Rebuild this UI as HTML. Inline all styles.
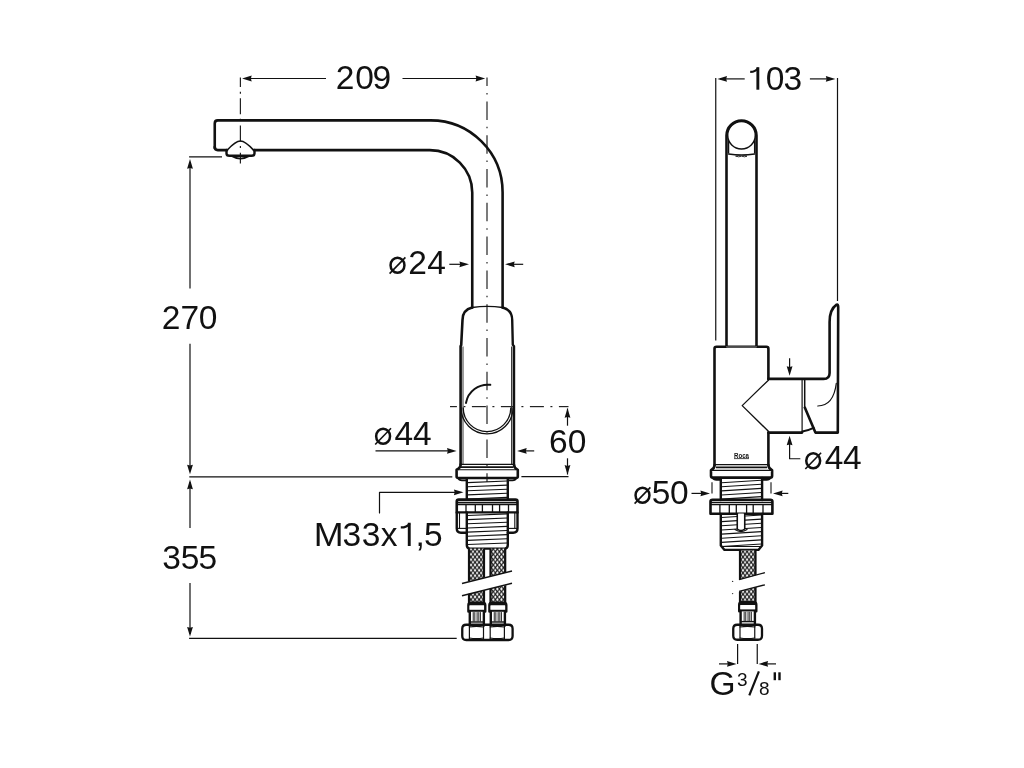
<!DOCTYPE html>
<html><head><meta charset="utf-8"><style>
html,body{margin:0;padding:0;background:#fff;width:1024px;height:768px;overflow:hidden}
svg{position:absolute;left:0;top:0;display:block;will-change:transform}
text{font-family:"Liberation Sans",sans-serif;fill:#111}
</style></head><body>
<svg width="1024" height="768" viewBox="0 0 1024 768">
<defs>
<pattern id="braid" x="0" y="0" width="4.06" height="5.33" patternUnits="userSpaceOnUse">
<rect width="4.06" height="5.33" fill="#1a1a1a"/>
<polygon points="2.03,0.81 3.28,2.67 2.03,4.52 0.78,2.67" fill="#fff"/>
<polygon points="0.00,-1.85 1.25,0.00 0.00,1.85 -1.25,0.00" fill="#fff"/>
<polygon points="4.06,-1.85 5.31,0.00 4.06,1.85 2.81,0.00" fill="#fff"/>
<polygon points="0.00,3.48 1.25,5.33 0.00,7.18 -1.25,5.33" fill="#fff"/>
<polygon points="4.06,3.48 5.31,5.33 4.06,7.18 2.81,5.33" fill="#fff"/>
</pattern>
</defs>
<rect width="1024" height="768" fill="#fff"/>
<line x1="245" y1="78.5" x2="326" y2="78.5" stroke="#111" stroke-width="1.2" />
<line x1="402.5" y1="78.5" x2="482" y2="78.5" stroke="#111" stroke-width="1.2" />
<polygon points="242.10,78.50 251.70,75.60 250.90,78.50 251.70,81.40" fill="#111"/>
<polygon points="485.20,78.50 475.60,75.60 476.40,78.50 475.60,81.40" fill="#111"/>
<line x1="240.4" y1="77.6" x2="240.4" y2="87.05" stroke="#222" stroke-width="1.2" />
<line x1="240.4" y1="91.65" x2="240.4" y2="93.65" stroke="#222" stroke-width="1.2" />
<line x1="240.4" y1="98.25" x2="240.4" y2="114.25" stroke="#222" stroke-width="1.2" />
<line x1="240.4" y1="118.85" x2="240.4" y2="120.85" stroke="#222" stroke-width="1.2" />
<line x1="240.4" y1="125.45" x2="240.4" y2="141.45" stroke="#222" stroke-width="1.2" />
<line x1="240.4" y1="146.05" x2="240.4" y2="148.05" stroke="#222" stroke-width="1.2" />
<line x1="240.4" y1="152.65" x2="240.4" y2="163.5" stroke="#222" stroke-width="1.2" />
<line x1="487" y1="77.6" x2="487" y2="86.1" stroke="#222" stroke-width="1.2" />
<line x1="487" y1="93.0" x2="487" y2="94.5" stroke="#222" stroke-width="1.2" />
<line x1="487" y1="101.4" x2="487" y2="119.9" stroke="#222" stroke-width="1.2" />
<line x1="487" y1="126.8" x2="487" y2="128.3" stroke="#222" stroke-width="1.2" />
<line x1="487" y1="135.2" x2="487" y2="153.7" stroke="#222" stroke-width="1.2" />
<line x1="487" y1="160.6" x2="487" y2="162.1" stroke="#222" stroke-width="1.2" />
<line x1="487" y1="169.0" x2="487" y2="187.5" stroke="#222" stroke-width="1.2" />
<line x1="487" y1="194.4" x2="487" y2="195.9" stroke="#222" stroke-width="1.2" />
<line x1="487" y1="202.8" x2="487" y2="221.3" stroke="#222" stroke-width="1.2" />
<line x1="487" y1="228.2" x2="487" y2="229.7" stroke="#222" stroke-width="1.2" />
<line x1="487" y1="236.6" x2="487" y2="255.1" stroke="#222" stroke-width="1.2" />
<line x1="487" y1="262.0" x2="487" y2="263.5" stroke="#222" stroke-width="1.2" />
<line x1="487" y1="270.4" x2="487" y2="288.9" stroke="#222" stroke-width="1.2" />
<line x1="487" y1="295.8" x2="487" y2="297.3" stroke="#222" stroke-width="1.2" />
<line x1="487" y1="304.2" x2="487" y2="322.7" stroke="#222" stroke-width="1.2" />
<line x1="487" y1="329.6" x2="487" y2="331.1" stroke="#222" stroke-width="1.2" />
<line x1="487" y1="338.0" x2="487" y2="356.5" stroke="#222" stroke-width="1.2" />
<line x1="487" y1="363.4" x2="487" y2="364.9" stroke="#222" stroke-width="1.2" />
<line x1="487" y1="371.8" x2="487" y2="390.3" stroke="#222" stroke-width="1.2" />
<line x1="487" y1="397.2" x2="487" y2="398.7" stroke="#222" stroke-width="1.2" />
<line x1="487" y1="405.6" x2="487" y2="424.1" stroke="#222" stroke-width="1.2" />
<line x1="487" y1="431.0" x2="487" y2="432.5" stroke="#222" stroke-width="1.2" />
<line x1="487" y1="439.4" x2="487" y2="457.9" stroke="#222" stroke-width="1.2" />
<line x1="487" y1="464.8" x2="487" y2="466.3" stroke="#222" stroke-width="1.2" />
<line x1="487" y1="473.2" x2="487" y2="482" stroke="#222" stroke-width="1.2" />
<line x1="450" y1="406.6" x2="456.9" y2="406.6" stroke="#222" stroke-width="1.2" />
<line x1="463.4" y1="406.6" x2="465.4" y2="406.6" stroke="#222" stroke-width="1.2" />
<line x1="471.9" y1="406.6" x2="485.9" y2="406.6" stroke="#222" stroke-width="1.2" />
<line x1="492.4" y1="406.6" x2="494.4" y2="406.6" stroke="#222" stroke-width="1.2" />
<line x1="500.9" y1="406.6" x2="514.9" y2="406.6" stroke="#222" stroke-width="1.2" />
<line x1="521.4" y1="406.6" x2="523.4" y2="406.6" stroke="#222" stroke-width="1.2" />
<line x1="529.9" y1="406.6" x2="543.9" y2="406.6" stroke="#222" stroke-width="1.2" />
<line x1="550.4" y1="406.6" x2="552.4" y2="406.6" stroke="#222" stroke-width="1.2" />
<line x1="558.9" y1="406.6" x2="568.5" y2="406.6" stroke="#222" stroke-width="1.2" />
<path d="M214.75,148 L214.75,123.4 Q214.75,120.4 217.75,120.4 L430.5,120.4 A72,72 0 0 1 502.6,192.4 L502.6,307.5" stroke="#111" stroke-width="2.6" fill="none" stroke-linecap="round" stroke-linejoin="round" />
<path d="M214.75,147 Q214.75,150.1 217.75,150.1 L227,150.1 M254,150.1 L429.75,150.1 A42.5,42.5 0 0 1 472.25,192.6 L472.25,307.5" stroke="#111" stroke-width="2.6" fill="none" stroke-linecap="round" stroke-linejoin="round" />
<path d="M226.75,150.5 C231,146 235.5,141 240.4,141 C245.3,141 249.8,146 253.9,150.5" stroke="#111" stroke-width="1.6" fill="none" stroke-linecap="round" stroke-linejoin="round" />
<path d="M226.5,150 L226.5,153.5 Q226.5,155.8 229.5,155.8 L251.5,155.8 Q254.5,155.8 254.5,153.5 L254.5,150" stroke="#111" stroke-width="2.4" fill="none" stroke-linecap="round" stroke-linejoin="round" />
<path d="M231.5,156 Q236,158.6 240.4,158.6 Q244.8,158.6 249.3,156" stroke="#111" stroke-width="1.8" fill="none" stroke-linecap="round" stroke-linejoin="round" />
<line x1="189.1" y1="156.8" x2="222" y2="156.8" stroke="#111" stroke-width="1.2" />
<path d="M472.25,307.5 Q487,305.2 502.6,307.5" stroke="#111" stroke-width="1.4" fill="none" stroke-linecap="round" stroke-linejoin="round" />
<path d="M472.25,307.5 C466,309 462.5,313 462.5,320 L461.2,345.2 L460.6,346.2 L460.6,464.5" stroke="#111" stroke-width="2.6" fill="none" stroke-linecap="round" stroke-linejoin="round" />
<path d="M502.6,307.5 C508.5,309 512.2,313 512.2,320 L512.8,344.8 L514,346.2 L514,464.5" stroke="#111" stroke-width="2.4" fill="none" stroke-linecap="round" stroke-linejoin="round" />
<line x1="463" y1="346.5" x2="463" y2="464.5" stroke="#666" stroke-width="1.3" />
<line x1="511.7" y1="346.5" x2="511.7" y2="464.5" stroke="#333" stroke-width="1.3" />
<path d="M461,407.8 A26,26 0 0 0 513,407.8" stroke="#111" stroke-width="1.3" fill="none" stroke-linecap="round" stroke-linejoin="round" />
<path d="M463.2,407.8 A23.8,23.8 0 0 0 510.8,407.8" stroke="#111" stroke-width="1.3" fill="none" stroke-linecap="round" stroke-linejoin="round" />
<path d="M466,402.9 A22,22 0 0 1 490.3,384.8" stroke="#111" stroke-width="2.0" fill="none" stroke-linecap="round" stroke-linejoin="round" />
<line x1="375.5" y1="450.9" x2="450" y2="450.9" stroke="#111" stroke-width="1.2" />
<polygon points="456.60,450.90 447.00,448.00 447.80,450.90 447.00,453.80" fill="#111"/>
<line x1="524" y1="450.9" x2="534.2" y2="450.9" stroke="#111" stroke-width="1.2" />
<polygon points="517.10,450.90 526.70,448.00 525.90,450.90 526.70,453.80" fill="#111"/>
<line x1="567.5" y1="408.5" x2="567.5" y2="425.7" stroke="#111" stroke-width="1.2" />
<line x1="567.5" y1="458.3" x2="567.5" y2="474.5" stroke="#111" stroke-width="1.2" />
<polygon points="567.50,408.20 564.60,417.80 567.50,417.00 570.40,417.80" fill="#111"/>
<polygon points="567.50,474.70 564.60,465.10 567.50,465.90 570.40,465.10" fill="#111"/>
<line x1="189.3" y1="476.8" x2="452.3" y2="476.8" stroke="#111" stroke-width="1.2" />
<line x1="521.4" y1="476.7" x2="568.5" y2="476.7" stroke="#111" stroke-width="1.2" />
<line x1="460.6" y1="464.3" x2="513.8" y2="464.3" stroke="#111" stroke-width="1.3" />
<line x1="461" y1="467.1" x2="513.5" y2="467.1" stroke="#111" stroke-width="1.6" />
<path d="M460.6,464.6 Q460.6,468 456.6,469.8 L456.6,476.5 Q456.6,478 458.5,478 L515.8,478 Q517.8,478 517.8,476.5 L517.8,469.8 Q514,468 514,464.6" stroke="#111" stroke-width="2.6" fill="none" stroke-linecap="round" stroke-linejoin="round" />
<line x1="456.6" y1="469.8" x2="517.8" y2="469.8" stroke="#111" stroke-width="1.1" />
<path d="M458,478 Q459,480.3 462,480.3 L466,480.3 M516.5,478 Q515.5,480.3 512.5,480.3 L508,480.3" stroke="#111" stroke-width="1.8" fill="none" stroke-linecap="round" stroke-linejoin="round" />
<path d="M466.8,478.5 L466.8,499.8 M507.8,478.5 L507.8,499.8" stroke="#111" stroke-width="2.4" fill="none" stroke-linecap="round" stroke-linejoin="round" />
<line x1="467.5" y1="482.6" x2="507" y2="481.0" stroke="#111" stroke-width="1.1" />
<line x1="467.5" y1="486.7" x2="507" y2="485.1" stroke="#111" stroke-width="1.1" />
<line x1="467.5" y1="490.8" x2="507" y2="489.2" stroke="#111" stroke-width="1.1" />
<line x1="467.5" y1="494.9" x2="507" y2="493.3" stroke="#111" stroke-width="1.1" />
<line x1="467.5" y1="499.0" x2="507" y2="497.4" stroke="#111" stroke-width="1.1" />
<path d="M379.5,513 L379.5,492.3 L458,492.3" stroke="#111" stroke-width="1.2" fill="none" stroke-linecap="round" stroke-linejoin="round" />
<polygon points="463.50,492.30 453.90,489.40 454.70,492.30 453.90,495.20" fill="#111"/>
<path d="M456.75,512.4 L456.75,501.5 Q456.75,499.6 458.75,499.6 L515.5,499.6 Q517.5,499.6 517.5,501.5 L517.5,512.4" stroke="#111" stroke-width="2.6" fill="none" stroke-linecap="round" stroke-linejoin="round" />
<line x1="456.75" y1="502.4" x2="517.5" y2="502.4" stroke="#111" stroke-width="1.1" />
<line x1="456.75" y1="504.4" x2="517.5" y2="504.4" stroke="#111" stroke-width="1.6" />
<line x1="456.75" y1="512.3" x2="517.5" y2="512.3" stroke="#111" stroke-width="2.2" />
<line x1="466" y1="504.4" x2="466" y2="512.3" stroke="#111" stroke-width="1.3" />
<line x1="475.3" y1="504.4" x2="475.3" y2="512.3" stroke="#111" stroke-width="1.3" />
<line x1="482.4" y1="504.4" x2="482.4" y2="512.3" stroke="#111" stroke-width="1.3" />
<line x1="492.5" y1="504.4" x2="492.5" y2="512.3" stroke="#111" stroke-width="1.3" />
<line x1="499.6" y1="504.4" x2="499.6" y2="512.3" stroke="#111" stroke-width="1.3" />
<line x1="508.5" y1="504.4" x2="508.5" y2="512.3" stroke="#111" stroke-width="1.3" />
<path d="M456.75,512.4 L456.75,528.6 Q456.75,532.7 461,532.7 L466.8,532.7" stroke="#111" stroke-width="2.4" fill="none" stroke-linecap="round" stroke-linejoin="round" />
<path d="M517.5,512.4 L517.5,528.6 Q517.5,532.7 513.2,532.7 L507.8,532.7" stroke="#111" stroke-width="2.4" fill="none" stroke-linecap="round" stroke-linejoin="round" />
<line x1="459.5" y1="513" x2="459.5" y2="528.4" stroke="#111" stroke-width="1.1" />
<line x1="514.8" y1="513" x2="514.8" y2="528.4" stroke="#111" stroke-width="1.1" />
<line x1="456.75" y1="528.4" x2="466.8" y2="528.4" stroke="#111" stroke-width="1.1" />
<line x1="507.8" y1="528.4" x2="517.5" y2="528.4" stroke="#111" stroke-width="1.1" />
<path d="M466.8,512.4 L466.8,545 Q466.8,548.6 470,548.6 L504.6,548.6 Q507.8,548.6 507.8,545 L507.8,512.4" stroke="#111" stroke-width="2.4" fill="none" stroke-linecap="round" stroke-linejoin="round" />
<line x1="467.5" y1="515.5" x2="507" y2="513.9" stroke="#111" stroke-width="1.1" />
<line x1="467.5" y1="519.65" x2="507" y2="518.05" stroke="#111" stroke-width="1.1" />
<line x1="467.5" y1="523.8" x2="507" y2="522.2" stroke="#111" stroke-width="1.1" />
<line x1="467.5" y1="527.95" x2="507" y2="526.35" stroke="#111" stroke-width="1.1" />
<line x1="467.5" y1="532.1" x2="507" y2="530.5" stroke="#111" stroke-width="1.1" />
<line x1="467.5" y1="536.25" x2="507" y2="534.65" stroke="#111" stroke-width="1.1" />
<line x1="467.5" y1="540.4" x2="507" y2="538.8" stroke="#111" stroke-width="1.1" />
<line x1="467.5" y1="544.55" x2="507" y2="542.95" stroke="#111" stroke-width="1.1" />
<rect x="469" y="548.6" width="15" height="55.39999999999998" fill="url(#braid)"/>
<line x1="469" y1="548.6" x2="469" y2="604" stroke="#111" stroke-width="2.2" />
<line x1="484" y1="548.6" x2="484" y2="604" stroke="#111" stroke-width="2.2" />
<rect x="490.5" y="548.6" width="14.699999999999989" height="55.39999999999998" fill="url(#braid)"/>
<line x1="490.5" y1="548.6" x2="490.5" y2="604" stroke="#111" stroke-width="2.2" />
<line x1="505.2" y1="548.6" x2="505.2" y2="604" stroke="#111" stroke-width="2.2" />
<polygon points="458,583.8 516,570.3 516,582.8 458,596.3" fill="#fff"/>
<line x1="462" y1="583.5" x2="512" y2="571" stroke="#111" stroke-width="1.3" />
<line x1="462" y1="595.75" x2="512" y2="583.25" stroke="#111" stroke-width="1.3" />
<path d="M468.4,611.6 L468.4,605.1 Q468.4,602.6 470.9,602.6 L482.75,602.6 Q485.25,602.6 485.25,605.1 L485.25,611.6" stroke="#111" stroke-width="2.4" fill="none" stroke-linecap="round" stroke-linejoin="round" />
<rect x="468.4" y="602.6" width="16.85" height="2.9" fill="#111"/>
<rect x="469.59999999999997" y="605.5" width="14.45" height="4.3" fill="#fff"/>
<line x1="468.4" y1="610.8000000000001" x2="485.25" y2="610.8000000000001" stroke="#111" stroke-width="2.0" />
<path d="M469.79999999999995,611.6 L469.79999999999995,625.6 M483.85,611.6 L483.85,625.6" stroke="#111" stroke-width="2.4" fill="none" stroke-linecap="round" stroke-linejoin="round" />
<line x1="473.22" y1="612.1" x2="473.22" y2="621.6" stroke="#111" stroke-width="0.9" />
<line x1="474.82" y1="612.1" x2="474.82" y2="621.6" stroke="#111" stroke-width="0.9" />
<line x1="477.12" y1="612.1" x2="477.12" y2="621.6" stroke="#111" stroke-width="0.9" />
<line x1="478.82" y1="612.1" x2="478.82" y2="621.6" stroke="#111" stroke-width="0.9" />
<line x1="480.43" y1="612.1" x2="480.43" y2="621.6" stroke="#111" stroke-width="0.9" />
<line x1="469.79999999999995" y1="622.0" x2="483.85" y2="622.0" stroke="#111" stroke-width="1.4" />
<path d="M489.4,611.6 L489.4,605.1 Q489.4,602.6 491.9,602.6 L503.8,602.6 Q506.3,602.6 506.3,605.1 L506.3,611.6" stroke="#111" stroke-width="2.4" fill="none" stroke-linecap="round" stroke-linejoin="round" />
<rect x="489.4" y="602.6" width="16.90" height="2.9" fill="#111"/>
<rect x="490.59999999999997" y="605.5" width="14.50" height="4.3" fill="#fff"/>
<line x1="489.4" y1="610.8000000000001" x2="506.3" y2="610.8000000000001" stroke="#111" stroke-width="2.0" />
<path d="M490.79999999999995,611.6 L490.79999999999995,625.6 M504.90000000000003,611.6 L504.90000000000003,625.6" stroke="#111" stroke-width="2.4" fill="none" stroke-linecap="round" stroke-linejoin="round" />
<line x1="494.25" y1="612.1" x2="494.25" y2="621.6" stroke="#111" stroke-width="0.9" />
<line x1="495.85" y1="612.1" x2="495.85" y2="621.6" stroke="#111" stroke-width="0.9" />
<line x1="498.15" y1="612.1" x2="498.15" y2="621.6" stroke="#111" stroke-width="0.9" />
<line x1="499.85" y1="612.1" x2="499.85" y2="621.6" stroke="#111" stroke-width="0.9" />
<line x1="501.45" y1="612.1" x2="501.45" y2="621.6" stroke="#111" stroke-width="0.9" />
<line x1="490.79999999999995" y1="622.0" x2="504.90000000000003" y2="622.0" stroke="#111" stroke-width="1.4" />
<path d="M466.25,624.75 L508.6,624.75 Q512.6,624.75 512.6,628.75 L512.6,636 Q512.6,640 508.6,640 L466.25,640 Q462.25,640 462.25,636 L462.25,628.75 Q462.25,624.75 466.25,624.75 Z" stroke="#111" stroke-width="2.3" fill="none" stroke-linecap="round" stroke-linejoin="round" />
<line x1="469.4" y1="626" x2="469.4" y2="639" stroke="#111" stroke-width="1.2" />
<line x1="483.5" y1="626" x2="483.5" y2="639" stroke="#111" stroke-width="1.2" />
<line x1="490.2" y1="626" x2="490.2" y2="639" stroke="#111" stroke-width="1.2" />
<line x1="504.4" y1="626" x2="504.4" y2="639" stroke="#111" stroke-width="1.2" />
<path d="M469.4,627 Q476.5,625.8 483.5,627 M469.4,638 Q476.5,639.2 483.5,638 M490.2,627 Q497.3,625.8 504.4,627 M490.2,638 Q497.3,639.2 504.4,638" stroke="#111" stroke-width="1.2" fill="none" stroke-linecap="round" stroke-linejoin="round" />
<line x1="189.1" y1="638.4" x2="456.7" y2="638.4" stroke="#111" stroke-width="1.2" />
<line x1="190" y1="162" x2="190" y2="288.5" stroke="#111" stroke-width="1.2" />
<line x1="190" y1="343.7" x2="190" y2="471" stroke="#111" stroke-width="1.2" />
<polygon points="190.00,159.10 187.10,168.70 190.00,167.90 192.90,168.70" fill="#111"/>
<polygon points="190.00,474.30 187.10,464.70 190.00,465.50 192.90,464.70" fill="#111"/>
<line x1="190" y1="482" x2="190" y2="528" stroke="#111" stroke-width="1.2" />
<line x1="190" y1="583" x2="190" y2="634" stroke="#111" stroke-width="1.2" />
<polygon points="190.00,479.60 187.10,489.20 190.00,488.40 192.90,489.20" fill="#111"/>
<polygon points="190.00,636.60 187.10,627.00 190.00,627.80 192.90,627.00" fill="#111"/>
<line x1="449.3" y1="264.3" x2="461" y2="264.3" stroke="#111" stroke-width="1.2" />
<polygon points="469.00,264.30 459.40,261.40 460.20,264.30 459.40,267.20" fill="#111"/>
<line x1="513" y1="264.3" x2="523.2" y2="264.3" stroke="#111" stroke-width="1.2" />
<polygon points="505.10,264.30 514.70,261.40 513.90,264.30 514.70,267.20" fill="#111"/>
<line x1="715.75" y1="78" x2="715.75" y2="340.5" stroke="#111" stroke-width="1.2" />
<line x1="837.5" y1="78" x2="837.5" y2="301" stroke="#111" stroke-width="1.2" />
<line x1="720" y1="78.9" x2="744.7" y2="78.9" stroke="#111" stroke-width="1.2" />
<line x1="809.9" y1="78.9" x2="832" y2="78.9" stroke="#111" stroke-width="1.2" />
<polygon points="717.40,78.90 727.00,76.00 726.20,78.90 727.00,81.80" fill="#111"/>
<polygon points="835.40,78.90 825.80,76.00 826.60,78.90 825.80,81.80" fill="#111"/>
<path d="M726.5,346.5 L726.5,135.5 A15,15 0 0 1 756.5,135.5 L756.5,346.5" stroke="#111" stroke-width="2.6" fill="none" stroke-linecap="round" stroke-linejoin="round" />
<circle cx="741.5" cy="135.3" r="13.8" fill="none" stroke="#111" stroke-width="1.5"/>
<line x1="728.6" y1="141" x2="728.6" y2="153.5" stroke="#111" stroke-width="1.3" />
<line x1="754.6" y1="141" x2="754.6" y2="153.5" stroke="#111" stroke-width="1.3" />
<path d="M728.6,154 Q741.5,156 754.6,154" stroke="#111" stroke-width="1.3" fill="none" stroke-linecap="round" stroke-linejoin="round" />
<path d="M736,156.2 Q739,154.8 741.2,156.2 Q739,157.6 736,156.2 M742,156.2 Q744.3,154.8 747,156.2 Q744.3,157.6 742,156.2" stroke="#111" stroke-width="0.8" fill="none" stroke-linecap="round" stroke-linejoin="round" />
<path d="M768.4,378.9 L768.4,348.8 Q768.4,346.8 766.4,346.8 L716.5,346.8 Q714.5,346.8 714.5,348.8 L714.5,465" stroke="#111" stroke-width="2.6" fill="none" stroke-linecap="round" stroke-linejoin="round" />
<line x1="726.5" y1="346.8" x2="756.5" y2="346.8" stroke="#fff" stroke-width="1.2" />
<line x1="726.5" y1="346.8" x2="756.5" y2="346.8" stroke="#111" stroke-width="1.0" />
<path d="M768.4,432.6 L768.4,465" stroke="#111" stroke-width="2.6" fill="none" stroke-linecap="round" stroke-linejoin="round" />
<path d="M768.4,378.9 L823.6,378.9 Q829.6,378.9 829.6,372.9 L829.6,322 C829.6,312 833,307 836.6,304.6 Q838.2,304 838.2,307 L837.8,432.6 L815.4,432.6 L804.8,407.6" stroke="#111" stroke-width="2.6" fill="none" stroke-linecap="round" stroke-linejoin="round" />
<line x1="804.7" y1="380" x2="804.7" y2="408" stroke="#111" stroke-width="1.5" />
<path d="M768.4,432.6 L802,432.6" stroke="#111" stroke-width="2.6" fill="none" stroke-linecap="round" stroke-linejoin="round" />
<line x1="802.1" y1="379.5" x2="802.1" y2="432" stroke="#111" stroke-width="1.2" />
<path d="M802.3,431.6 Q808,430.5 813.6,427.8" stroke="#111" stroke-width="2.0" fill="none" stroke-linecap="round" stroke-linejoin="round" />
<path d="M817.75,406 C828,406 834.5,398 836.3,383.3" stroke="#111" stroke-width="1.2" fill="none" stroke-linecap="round" stroke-linejoin="round" />
<path d="M768.4,380.2 L742.2,405.6 L768.4,431.3" stroke="#111" stroke-width="1.3" fill="none" stroke-linecap="round" stroke-linejoin="round" />
<line x1="789.6" y1="358.2" x2="789.6" y2="369" stroke="#111" stroke-width="1.2" />
<polygon points="789.60,375.80 786.70,366.20 789.60,367.00 792.50,366.20" fill="#111"/>
<path d="M789.6,442 L789.6,458.75 L799.9,458.75" stroke="#111" stroke-width="1.2" fill="none" stroke-linecap="round" stroke-linejoin="round" />
<polygon points="789.60,435.75 786.70,445.35 789.60,444.55 792.50,445.35" fill="#111"/>
<line x1="714.75" y1="464.6" x2="768.4" y2="464.6" stroke="#111" stroke-width="1.3" />
<line x1="716" y1="467.4" x2="767" y2="467.4" stroke="#111" stroke-width="1.6" />
<path d="M714.6,465 Q714.6,468.5 711,470.2 L711,476 Q711,477.6 713,477.6 L770.1,477.6 Q772.1,477.6 772.1,476 L772.1,470.2 Q768.4,468.5 768.4,465" stroke="#111" stroke-width="2.6" fill="none" stroke-linecap="round" stroke-linejoin="round" />
<line x1="711" y1="470.4" x2="772.1" y2="470.4" stroke="#111" stroke-width="1.1" />
<path d="M712.5,477.6 Q713.5,479.8 716.5,479.8 L720.8,479.8 M770.6,477.6 Q769.6,479.8 766.6,479.8 L762.1,479.8" stroke="#111" stroke-width="1.8" fill="none" stroke-linecap="round" stroke-linejoin="round" />
<path d="M720.8,478 L720.8,500 M762.1,478 L762.1,500" stroke="#111" stroke-width="2.4" fill="none" stroke-linecap="round" stroke-linejoin="round" />
<line x1="721.5" y1="482.7" x2="761.4" y2="480.2" stroke="#111" stroke-width="1.1" />
<line x1="721.5" y1="486.8" x2="761.4" y2="484.3" stroke="#111" stroke-width="1.1" />
<line x1="721.5" y1="490.9" x2="761.4" y2="488.4" stroke="#111" stroke-width="1.1" />
<line x1="721.5" y1="495.0" x2="761.4" y2="492.5" stroke="#111" stroke-width="1.1" />
<line x1="721.5" y1="499.1" x2="761.4" y2="496.6" stroke="#111" stroke-width="1.1" />
<line x1="712" y1="482.2" x2="712" y2="493.4" stroke="#111" stroke-width="1.1" />
<line x1="771" y1="482.2" x2="771" y2="493.4" stroke="#111" stroke-width="1.1" />
<line x1="691.5" y1="493.4" x2="703" y2="493.4" stroke="#111" stroke-width="1.2" />
<polygon points="710.00,493.40 700.40,490.50 701.20,493.40 700.40,496.30" fill="#111"/>
<line x1="778" y1="493.4" x2="788.3" y2="493.4" stroke="#111" stroke-width="1.2" />
<polygon points="773.00,493.40 782.60,490.50 781.80,493.40 782.60,496.30" fill="#111"/>
<path d="M710.5,513.8 L710.5,501.6 Q710.5,499.75 712.5,499.75 L770.4,499.75 Q772.4,499.75 772.4,501.6 L772.4,513.8 L710.5,513.8" stroke="#111" stroke-width="2.6" fill="none" stroke-linecap="round" stroke-linejoin="round" />
<line x1="710.5" y1="502.4" x2="772.4" y2="502.4" stroke="#111" stroke-width="1.1" />
<line x1="710.5" y1="504.5" x2="772.4" y2="504.5" stroke="#111" stroke-width="1.6" />
<line x1="719.9" y1="504.5" x2="719.9" y2="513.5" stroke="#111" stroke-width="1.3" />
<line x1="729.3" y1="504.5" x2="729.3" y2="513.5" stroke="#111" stroke-width="1.3" />
<line x1="736.3" y1="504.5" x2="736.3" y2="513.5" stroke="#111" stroke-width="1.3" />
<line x1="746.6" y1="504.5" x2="746.6" y2="513.5" stroke="#111" stroke-width="1.3" />
<line x1="753.2" y1="504.5" x2="753.2" y2="513.5" stroke="#111" stroke-width="1.3" />
<line x1="763" y1="504.5" x2="763" y2="513.5" stroke="#111" stroke-width="1.3" />
<path d="M720.8,514 L720.8,545.5 L724.5,549.9 L758.4,549.9 L762.1,545.5 L762.1,514" stroke="#111" stroke-width="2.4" fill="none" stroke-linecap="round" stroke-linejoin="round" />
<line x1="721" y1="546.5" x2="762" y2="546.5" stroke="#111" stroke-width="1.1" />
<line x1="721.5" y1="517.5" x2="761.4" y2="515.0" stroke="#111" stroke-width="1.1" />
<line x1="721.5" y1="521.65" x2="761.4" y2="519.15" stroke="#111" stroke-width="1.1" />
<line x1="721.5" y1="525.8" x2="761.4" y2="523.3" stroke="#111" stroke-width="1.1" />
<line x1="721.5" y1="529.95" x2="761.4" y2="527.45" stroke="#111" stroke-width="1.1" />
<line x1="721.5" y1="534.1" x2="761.4" y2="531.6" stroke="#111" stroke-width="1.1" />
<line x1="721.5" y1="538.25" x2="761.4" y2="535.75" stroke="#111" stroke-width="1.1" />
<line x1="721.5" y1="542.4" x2="761.4" y2="539.9" stroke="#111" stroke-width="1.1" />
<line x1="721.5" y1="546.55" x2="761.4" y2="544.05" stroke="#111" stroke-width="1.1" />
<rect x="737.25" y="513.5" width="7.5" height="17" rx="1.5" fill="#fff"/>
<path d="M737.25,514 L737.25,529 Q741,532 744.75,529 L744.75,514" stroke="#111" stroke-width="1.6" fill="none" stroke-linecap="round" stroke-linejoin="round" />
<path d="M735,529.5 Q741,533.5 747,529.5" stroke="#111" stroke-width="1.3" fill="none" stroke-linecap="round" stroke-linejoin="round" />
<rect x="740" y="550" width="15.5" height="53.5" fill="url(#braid)"/>
<line x1="740" y1="550" x2="740" y2="603.5" stroke="#111" stroke-width="2.2" />
<line x1="755.5" y1="550" x2="755.5" y2="603.5" stroke="#111" stroke-width="2.2" />
<polygon points="736,580.7 768,572 768,584 736,592.6" fill="#fff"/>
<line x1="739.1" y1="579.7" x2="764.9" y2="572.7" stroke="#111" stroke-width="1.3" />
<line x1="739.1" y1="591.4" x2="764.9" y2="584.8" stroke="#111" stroke-width="1.3" />
<circle cx="732.6" cy="581.4" r="0.7" fill="#333"/><circle cx="732.6" cy="593.6" r="0.7" fill="#333"/>
<path d="M739.2,611.2 L739.2,604.7 Q739.2,602.2 741.7,602.2 L753.8,602.2 Q756.3,602.2 756.3,604.7 L756.3,611.2" stroke="#111" stroke-width="2.4" fill="none" stroke-linecap="round" stroke-linejoin="round" />
<rect x="739.2" y="602.2" width="17.10" height="2.9" fill="#111"/>
<rect x="740.4000000000001" y="605.1" width="14.70" height="4.3" fill="#fff"/>
<line x1="739.2" y1="610.4000000000001" x2="756.3" y2="610.4000000000001" stroke="#111" stroke-width="2.0" />
<path d="M740.6,611.2 L740.6,625.2 M754.9,611.2 L754.9,625.2" stroke="#111" stroke-width="2.4" fill="none" stroke-linecap="round" stroke-linejoin="round" />
<line x1="744.15" y1="611.7" x2="744.15" y2="621.2" stroke="#111" stroke-width="0.9" />
<line x1="745.75" y1="611.7" x2="745.75" y2="621.2" stroke="#111" stroke-width="0.9" />
<line x1="748.05" y1="611.7" x2="748.05" y2="621.2" stroke="#111" stroke-width="0.9" />
<line x1="749.75" y1="611.7" x2="749.75" y2="621.2" stroke="#111" stroke-width="0.9" />
<line x1="751.35" y1="611.7" x2="751.35" y2="621.2" stroke="#111" stroke-width="0.9" />
<line x1="740.6" y1="621.6" x2="754.9" y2="621.6" stroke="#111" stroke-width="1.4" />
<path d="M737.25,624.75 L758,624.75 Q762,624.75 762,628.75 L762,635.75 Q762,639.75 758,639.75 L737.25,639.75 Q733.25,639.75 733.25,635.75 L733.25,628.75 Q733.25,624.75 737.25,624.75 Z" stroke="#111" stroke-width="2.3" fill="none" stroke-linecap="round" stroke-linejoin="round" />
<line x1="740" y1="626" x2="740" y2="638.5" stroke="#111" stroke-width="1.2" />
<line x1="754.75" y1="626" x2="754.75" y2="638.5" stroke="#111" stroke-width="1.2" />
<path d="M740,627 Q747.4,625.8 754.75,627 M740,638 Q747.4,639.2 754.75,638" stroke="#111" stroke-width="1.2" fill="none" stroke-linecap="round" stroke-linejoin="round" />
<line x1="737.6" y1="644" x2="737.6" y2="664" stroke="#111" stroke-width="1.2" />
<line x1="757.25" y1="644" x2="757.25" y2="664" stroke="#111" stroke-width="1.2" />
<line x1="719" y1="663.9" x2="730" y2="663.9" stroke="#111" stroke-width="1.2" />
<polygon points="736.60,663.90 727.00,661.00 727.80,663.90 727.00,666.80" fill="#111"/>
<line x1="765" y1="663.9" x2="776" y2="663.9" stroke="#111" stroke-width="1.2" />
<polygon points="758.50,663.90 768.10,661.00 767.30,663.90 768.10,666.80" fill="#111"/>
<text x="734" y="457.6" font-size="7" font-weight="bold" textLength="15" lengthAdjust="spacingAndGlyphs">Roca</text>
<line x1="734" y1="458.6" x2="749" y2="458.6" stroke="#333" stroke-width="0.9" />
<text x="335.72" y="88.8" font-size="33.5">2</text>
<text x="355.19" y="88.8" font-size="33.5">0</text>
<text x="372.53" y="88.8" font-size="33.5">9</text>
<path d="M757.85,67.2 L757.85,89.7" stroke="#111" stroke-width="2.9" fill="none"/>
<path d="M758.15,68.00 C756.35,70.80 754.35,71.90 750.20,71.90" stroke="#111" stroke-width="2.3" fill="none"/>
<text x="765.69" y="89.7" font-size="33.5">0</text>
<text x="783.62" y="89.7" font-size="33.5">3</text>
<ellipse cx="397.5" cy="265.3" rx="6.95" ry="7.55" fill="none" stroke="#111" stroke-width="2.5"/>
<line x1="389.60" y1="273.60" x2="405.40" y2="257.40" stroke="#111" stroke-width="1.6"/>
<text x="408.32" y="273.8" font-size="33.5">2</text>
<text x="427.23" y="273.8" font-size="33.5">4</text>
<text x="161.82" y="328.7" font-size="33.5">2</text>
<text x="180.58" y="328.7" font-size="33.5">7</text>
<text x="198.79" y="328.7" font-size="33.5">0</text>
<ellipse cx="383.1" cy="436.2" rx="6.95" ry="7.55" fill="none" stroke="#111" stroke-width="2.5"/>
<line x1="375.20" y1="444.50" x2="391.00" y2="428.30" stroke="#111" stroke-width="1.6"/>
<text x="394.53" y="444.8" font-size="33.5">4</text>
<text x="412.93" y="444.8" font-size="33.5">4</text>
<text x="549.10" y="452.7" font-size="33.5">6</text>
<text x="567.69" y="452.7" font-size="33.5">0</text>
<text transform="translate(313.76,546) scale(1.07,1)" font-size="33.5">M</text>
<text x="342.62" y="546" font-size="33.5">3</text>
<text x="361.82" y="546" font-size="33.5">3</text>
<text x="380.72" y="546" font-size="33.5">x</text>
<path d="M409.25,522.75 L409.25,546" stroke="#111" stroke-width="2.9" fill="none"/>
<path d="M409.55,523.55 C407.75,526.35 405.75,527.45 400.80,527.45" stroke="#111" stroke-width="2.3" fill="none"/>
<text x="415.39" y="546" font-size="33.5">,</text>
<text x="424.06" y="546" font-size="33.5">5</text>
<text x="162.22" y="568.7" font-size="33.5">3</text>
<text x="180.66" y="568.7" font-size="33.5">5</text>
<text x="198.46" y="568.7" font-size="33.5">5</text>
<ellipse cx="642.5" cy="495.3" rx="6.95" ry="7.55" fill="none" stroke="#111" stroke-width="2.5"/>
<line x1="634.60" y1="503.60" x2="650.40" y2="487.40" stroke="#111" stroke-width="1.6"/>
<text x="651.66" y="503.8" font-size="33.5">5</text>
<text x="670.09" y="503.8" font-size="33.5">0</text>
<ellipse cx="813.2" cy="460.7" rx="6.95" ry="7.55" fill="none" stroke="#111" stroke-width="2.5"/>
<line x1="805.30" y1="469.00" x2="821.10" y2="452.80" stroke="#111" stroke-width="1.6"/>
<text x="824.73" y="469.3" font-size="33.5">4</text>
<text x="843.03" y="469.3" font-size="33.5">4</text>
<text x="709.42" y="694.6" font-size="33.5">G</text>
<text x="736.88" y="686.1" font-size="19">3</text>
<line x1="749.3" y1="695.4" x2="758.9" y2="671.4" stroke="#111" stroke-width="2.2"/>
<text x="759.07" y="695" font-size="19">8</text>
<rect x="773.6" y="672.3" width="2.4" height="7.9" fill="#111"/><rect x="778.3" y="672.3" width="2.4" height="7.9" fill="#111"/>
</svg>
</body></html>
